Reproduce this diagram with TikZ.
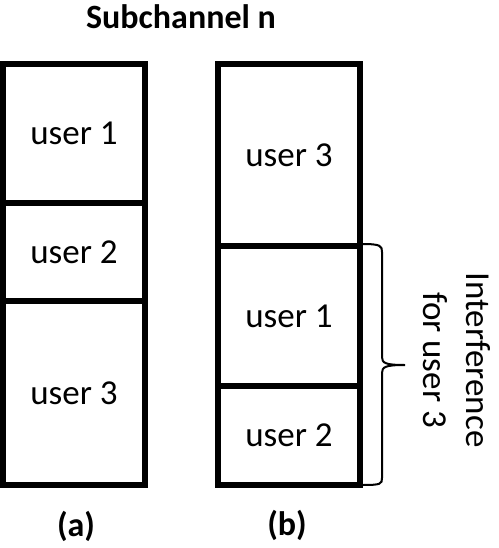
\documentclass[tikz,border=0pt]{standalone}
\usepackage{fontspec}
\setmainfont{Carlito}
\begin{document}
\begin{tikzpicture}[x=1pt,y=-1pt,
  cell/.style={draw=black,line width=6.5pt,rectangle,minimum width=142pt,inner sep=0pt,
     font=\fontsize{35}{42}\selectfont,anchor=center},
  lbl/.style={font=\bfseries\fontsize{34}{40}\selectfont,inner sep=0pt,anchor=base},
  bracepath/.style={draw=black,line width=2pt}]
\useasboundingbox (0,0) rectangle (498,548);
\fill[white] (0,0) rectangle (498,548);
% (a)
\node[cell,minimum height=139pt] (a1) at (74,133.5) {user 1};
\node[cell,minimum height=98pt] (a2) at (74,252) {user 2};
\node[cell,minimum height=184pt] (a3) at (74,393) {user 3};
% (b)
\node[cell,minimum height=182pt] (b3) at (289,155) {user 3};
\node[cell,minimum height=140pt] (b1) at (289,316) {user 1};
\node[cell,minimum height=99pt] (b2) at (289,435.5) {user 2};
% labels
\node[lbl] (title) at (181,28.5) {Subchannel n};
\node[lbl] (la) at (76,536) {(a)};
\node[lbl] (lb) at (287,535) {(b)};
% brace
\coordinate (brT) at (362,244);
\coordinate (brTip) at (405,365);
\coordinate (brB) at (362,485);
\draw[bracepath] (brT) .. controls (381,244) and (382,246) .. (382,252) -- (382,357)
   .. controls (382,363) and (385,365) .. (brTip)
   .. controls (385,365) and (382,367) .. (382,373) -- (382,478)
   .. controls (382,484) and (381,485) .. (brB);
\node[rotate=-90,align=center,inner sep=0pt,font=\fontsize{35}{43}\selectfont] (intf) at (457,360) {Interference\\for user 3};
\end{tikzpicture}
\end{document}
